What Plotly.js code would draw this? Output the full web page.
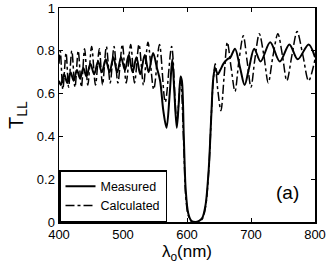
<!DOCTYPE html>
<html><head><meta charset="utf-8">
<script src="https://cdn.plot.ly/plotly-3.0.1.min.js"></script>
<style>html,body{margin:0;padding:0;background:#fff;}#chart{width:327px;height:273px;}</style>
</head><body><div id="chart"></div>
<script>
// Measured curve (wavelength nm, transmittance) - read at extrema and steep sides
const measuredX = [400,403,408,413,418,423,428,433,438,443,449,455,461,467,473,479,485,491,497,503,509,515,521,527,534,540,547,553,558,563,568,573,577,580,584,587,590,592,595,598,602,607,613,619,624,629,634,638,641,644,648,652,657,663,668,675,683,690,697,705,715,730,745,760,773,790,800];
const measuredY = [0.66,0.64,0.69,0.65,0.70,0.66,0.71,0.67,0.72,0.68,0.74,0.69,0.75,0.70,0.76,0.70,0.77,0.70,0.77,0.71,0.78,0.70,0.77,0.69,0.78,0.70,0.79,0.72,0.66,0.52,0.44,0.60,0.76,0.62,0.44,0.55,0.68,0.66,0.40,0.15,0.04,0.005,0.0,0.005,0.02,0.08,0.25,0.50,0.67,0.72,0.69,0.71,0.74,0.76,0.77,0.81,0.72,0.64,0.72,0.81,0.75,0.84,0.75,0.83,0.76,0.83,0.77];
// Calculated curve
const calculatedX = [400,402,406,411,415,420,425,430,435,440,445,451,457,463,468,474,480,486,492,499,505,512,518,525,532,539,548,557,566,576,584,590,595,598,602,607,613,619,624,629,634,638,641,644,648,653,658,663,669,675,681,688,694,700,706,713,720,727,734,742,749,756,764,772,781,790,800];
const calculatedY = [0.74,0.80,0.62,0.79,0.63,0.80,0.63,0.80,0.63,0.81,0.64,0.82,0.64,0.81,0.64,0.82,0.65,0.82,0.65,0.83,0.65,0.83,0.65,0.83,0.64,0.84,0.62,0.83,0.56,0.82,0.47,0.66,0.35,0.12,0.03,0.003,0.0,0.003,0.015,0.07,0.24,0.50,0.66,0.74,0.62,0.52,0.68,0.84,0.72,0.61,0.75,0.87,0.75,0.63,0.76,0.88,0.78,0.65,0.77,0.88,0.78,0.66,0.78,0.89,0.78,0.66,0.76];
const xTicks = [400,500,600,700,800];
const yTicks = [0,0.2,0.4,0.6,0.8,1];
const yTickText = ['0','0.2','0.4','0.6','0.8','1'];

const traces = [
  {x: measuredX, y: measuredY, type:'scatter', mode:'lines', name:'Measured',
   line:{color:'#000', width:2, shape:'spline', smoothing:0.9}},
  {x: calculatedX, y: calculatedY, type:'scatter', mode:'lines', name:'Calculated',
   line:{color:'#000', width:1.5, dash:'dashdot', shape:'spline', smoothing:0.9}}
];
const axisCommon = {showgrid:false, zeroline:false, showline:true, linecolor:'#000', linewidth:1.5,
  mirror:'ticks', ticks:'inside', ticklen:4, tickcolor:'#000', tickwidth:1,
  ticklabeloverflow:'allow',
  tickfont:{family:'Liberation Sans, Arial, sans-serif', size:13, color:'#000'}};
const layout = {
  width:327, height:273,
  margin:{l:59, r:12, t:8, b:51},
  paper_bgcolor:'#fff', plot_bgcolor:'#fff',
  showlegend:true,
  legend:{x:0, y:0, xanchor:'left', yanchor:'bottom', bgcolor:'#fff', bordercolor:'#000', borderwidth:1.5,
    font:{family:'Liberation Sans, Arial, sans-serif', size:12.5, color:'#000'}, tracegroupgap:0, itemwidth:30},
  xaxis: Object.assign({}, axisCommon, {range:[400,800], tickvals:xTicks, ticktext:xTicks.map(String),
    title:{text:'λ<sub>o</sub>(nm)', font:{family:'Liberation Sans, Arial, sans-serif', size:17, color:'#000'}, standoff:2}}),
  yaxis: Object.assign({}, axisCommon, {range:[0,1], tickvals:yTicks, ticktext:yTickText,
    title:{text:'T<sub>LL</sub>', font:{family:'Liberation Sans, Arial, sans-serif', size:20, color:'#000'}, standoff:8}}),
  annotations:[{x:757, y:0.14, xref:'x', yref:'y', text:'(a)', showarrow:false,
    font:{family:'Liberation Sans, Arial, sans-serif', size:19, color:'#000'}}]
};
Plotly.newPlot('chart', traces, layout, {displayModeBar:false, staticPlot:true});
</script></body></html>
